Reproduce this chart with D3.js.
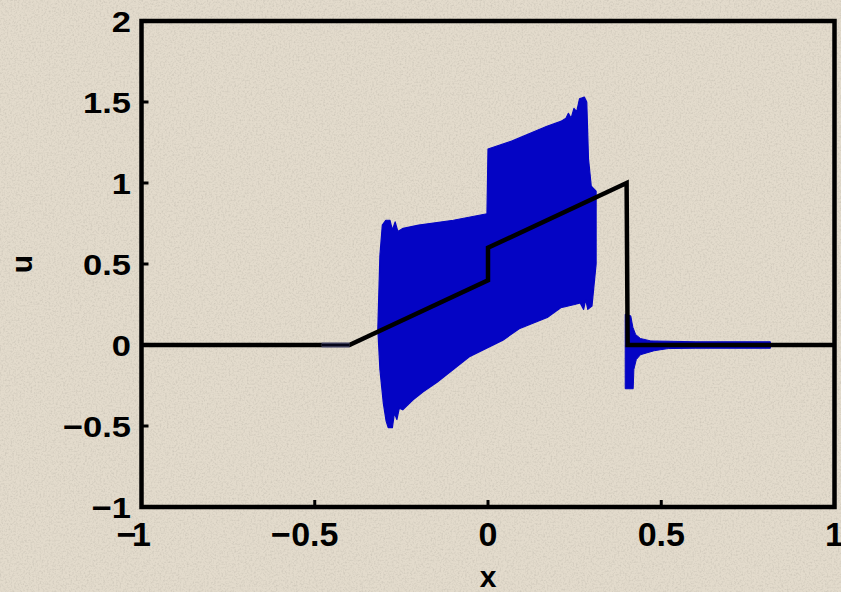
<!DOCTYPE html>
<html><head><meta charset="utf-8">
<script src="https://cdn.jsdelivr.net/npm/d3@7"></script>
<style>html,body{margin:0;padding:0;background:#e3dbcc;}svg{display:block;}</style>
</head><body>
<script>
// ---- data ----
const xTicks = [-1, -0.5, 0, 0.5, 1];
const yTicks = [-1, -0.5, 0, 0.5, 1, 1.5, 2];
// exact solution (black)
const exactX = [-1, -0.4, 0, 0, 0.4, 0.403, 1];
const exactU = [0, 0, 0.4, 0.6, 1.0, 0, 0];
// numerical solution envelope (blue, densely oscillating)
const bandUpper = [[-0.318,0.10],[-0.312,0.55],[-0.305,0.74],[-0.295,0.77],[-0.283,0.77],[-0.276,0.71],[-0.268,0.76],[-0.26,0.70],[-0.245,0.72],[-0.2,0.74],[-0.1,0.77],[-0.003,0.81],
  [0.0,1.21],[0.07,1.26],[0.17,1.35],[0.21,1.38],[0.225,1.40],[0.232,1.43],[0.24,1.40],[0.248,1.46],[0.256,1.44],[0.264,1.52],[0.278,1.53],[0.285,1.50],[0.29,1.15],[0.298,0.98],[0.312,0.95]];
const bandLower = [[-0.318,0.10],[-0.312,-0.15],[-0.302,-0.36],[-0.294,-0.47],[-0.288,-0.51],[-0.276,-0.51],[-0.27,-0.42],[-0.263,-0.46],[-0.256,-0.39],[-0.246,-0.40],[-0.217,-0.34],[-0.188,-0.29],[-0.147,-0.23],[-0.052,-0.07],[0.043,0.03],[0.09,0.10],[0.171,0.17],[0.21,0.23],[0.25,0.25],[0.266,0.26],[0.276,0.22],[0.282,0.28],[0.288,0.22],[0.3,0.24],[0.312,0.50]];
const tailUpper = [[0.396,0.19],[0.412,0.18],[0.418,0.11],[0.426,0.065],[0.44,0.04],[0.47,0.025],[0.6,0.02],[0.815,0.02]];
const tailLower = [[0.396,-0.27],[0.419,-0.27],[0.421,-0.15],[0.428,-0.09],[0.44,-0.06],[0.48,-0.035],[0.52,-0.022],[0.6,-0.02],[0.815,-0.02]];
const leftFlatX = [-0.48, -0.40];
const leftFlatU = [0, 0];

const W = 841, H = 592;
const svg = d3.select("body").append("svg").attr("width", W).attr("height", H);

// textured background
const defs = svg.append("defs");
const f = defs.append("filter").attr("id","noise").attr("x",0).attr("y",0).attr("width","100%").attr("height","100%");
f.append("feTurbulence").attr("type","fractalNoise").attr("baseFrequency","0.55").attr("numOctaves",2).attr("seed",4).attr("result","t");
f.append("feColorMatrix").attr("in","t").attr("type","matrix")
  .attr("values","0 0 0 0 0.45  0 0 0 0 0.42  0 0 0 0 0.36  0 0 0 -2.2 1.25");
svg.append("rect").attr("width",W).attr("height",H).attr("fill","#e3dbcc");
svg.append("rect").attr("width",W).attr("height",H).attr("filter","url(#noise)").attr("opacity",0.4);

const x = d3.scaleLinear().domain([-1, 1]).range([141.5, 834.5]);
const y = d3.scaleLinear().domain([-1, 2]).range([507, 21]);

const blue = "#0404c4";
const line = d3.line().x(d => x(d[0])).y(d => y(d[1]));

// blue band polygon
const band = bandUpper.concat(bandLower.slice().reverse());
svg.append("path").attr("d", line(band) + "Z").attr("fill", blue).attr("stroke", blue).attr("stroke-width", 1.2).attr("stroke-linejoin","round");
const tail = tailUpper.concat(tailLower.slice().reverse());
svg.append("path").attr("d", line(tail) + "Z").attr("fill", blue).attr("stroke", blue).attr("stroke-width", 1);

// exact solution
const exact = exactX.map((v,i)=>[v, exactU[i]]);
svg.append("path").attr("d", line(exact)).attr("fill","none").attr("stroke","#000").attr("stroke-width",4.5).attr("stroke-linejoin","miter");
// thinner stretch where the numerical solution overlays the exact one
const lf = leftFlatX.map((v,i)=>[v,leftFlatU[i]]);
svg.append("path").attr("d", line(lf)).attr("fill","none").attr("stroke","#6a6a8c").attr("stroke-width",5);
svg.append("path").attr("d", line(lf)).attr("fill","none").attr("stroke","#05051a").attr("stroke-width",3);

// box
svg.append("rect").attr("x",x(-1)).attr("y",y(2)).attr("width",x(1)-x(-1)).attr("height",y(-1)-y(2))
  .attr("fill","none").attr("stroke","#000").attr("stroke-width",4.5);

// ticks
const ax = svg.append("g");
ax.selectAll(".yt").data(yTicks).join("line").attr("x1",x(-1)).attr("x2",x(-1)+7).attr("y1",d=>y(d)).attr("y2",d=>y(d)).attr("stroke","#000").attr("stroke-width",3);
ax.selectAll(".xt").data(xTicks).join("line").attr("y1",y(-1)).attr("y2",y(-1)-7).attr("x1",d=>x(d)).attr("x2",d=>x(d)).attr("stroke","#000").attr("stroke-width",3);

const font = "'Liberation Sans', Arial, sans-serif";
const fmt = d => String(Math.abs(d));
// y labels (right aligned)
ax.selectAll(".yl").data(yTicks).join("text")
  .attr("transform", d => `translate(131,${y(d)+11}) scale(1.15,1)`)
  .attr("text-anchor","end").attr("font-family",font).attr("font-weight","bold").attr("font-size",30).attr("fill","#000")
  .text(d => (d < 0 ? "\u2212" : "") + fmt(d));
// x labels: number centred at tick, minus hanging left
const xl = ax.selectAll(".xl").data(xTicks).join("g").attr("transform", d => `translate(${x(d)},546)`);
xl.append("text").attr("text-anchor","middle").attr("font-family",font).attr("font-weight","bold").attr("font-size",34).attr("fill","#000").text(d => fmt(d));
xl.filter(d => d < 0).append("text").attr("text-anchor","end")
  .attr("font-family",font).attr("font-weight","bold").attr("font-size",34).attr("fill","#000")
  .attr("dx", d => (fmt(d).length === 1 ? -5 : -24)).text("\u2212");

// axis titles
svg.append("text").attr("x",488).attr("y",587).attr("text-anchor","middle").attr("font-family",font).attr("font-weight","bold").attr("font-size",30).text("x");
svg.append("text").attr("transform","translate(32,264) rotate(-90)").attr("text-anchor","middle").attr("font-family",font).attr("font-weight","bold").attr("font-size",30).text("u");
</script>
</body></html>
